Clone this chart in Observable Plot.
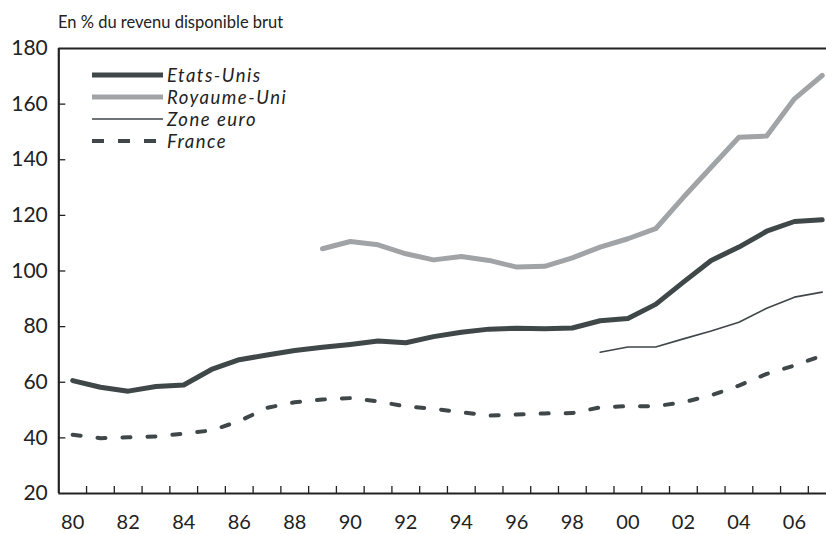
<!DOCTYPE html>
<html>
<head>
<meta charset="utf-8">
<script src="https://cdn.jsdelivr.net/npm/d3@7"></script>
<script src="https://cdn.jsdelivr.net/npm/@observablehq/plot@0.6"></script>
<style>
  html, body { margin: 0; padding: 0; background: #fff; overflow: hidden; }
  #wrap { position: relative; width: 826px; height: 534px; font-family: Lato, "Open Sans", sans-serif; color: #222; }
  #title { position: absolute; left: 58px; top: 11px; font-size: 16.5px; line-height: 22px; white-space: nowrap; }
  #legend { position: absolute; left: 90px; top: 64px; }
  .row { display: flex; align-items: center; height: 22px; }
  .row svg { display: block; margin-right: 4px; }
  .row span { font-style: italic; font-size: 18.5px; letter-spacing: 1.5px; line-height: 22px; white-space: nowrap; }
</style>
</head>
<body>
<div id="wrap">
  <div id="chart"></div>
  <div id="title"></div>
  <div id="legend"></div>
</div>
<script>
const titleText = "En % du revenu disponible brut";
const years = d3.range(1980, 2008);
const etatsUnis = [60.6,58.2,56.8,58.5,59.0,64.6,68.1,69.8,71.4,72.6,73.6,74.8,74.2,76.4,78.0,79.1,79.4,79.2,79.5,82.1,82.9,88.0,96.0,103.8,108.6,114.3,117.8,118.4];
const ruYears = d3.range(1989, 2008);
const royaumeUni = [108.0,110.6,109.4,106.2,104.0,105.2,103.8,101.4,101.7,104.7,108.6,111.6,115.2,126.5,137.3,148.1,148.5,161.9,170.3];
const zeYears = d3.range(1999, 2008);
const zoneEuro = [70.8,72.7,72.7,75.6,78.4,81.6,86.6,90.6,92.4];
const france = [41.1,39.9,40.2,40.5,41.5,42.7,46.0,50.8,52.8,53.8,54.3,53.1,51.3,50.5,49.2,48.0,48.4,48.8,48.9,51.0,51.4,51.4,52.8,55.3,58.8,63.0,66.0,69.6];
const yTicks = [20,40,60,80,100,120,140,160,180];
const xLabelYears = d3.range(1980, 2007, 2);
const xTickPos = d3.range(1980.5, 2007, 1);

const seriesNames = ["Etats-Unis", "Royaume-Uni", "Zone euro", "France"];
const dark = "#3f4749", light = "#a0a4a7";
const styles = {
  "Etats-Unis": {stroke: dark, strokeWidth: 5, dash: null},
  "Royaume-Uni": {stroke: light, strokeWidth: 5, dash: null},
  "Zone euro": {stroke: dark, strokeWidth: 1.6, dash: null},
  "France": {stroke: dark, strokeWidth: 4, dash: "8,17"}
};

const tbl = (ys, vs) => ys.map((y, i) => ({year: y, value: vs[i]}));
const dataUS = tbl(years, etatsUnis);
const dataUK = tbl(ruYears, royaumeUni);
const dataZE = tbl(zeYears, zoneEuro);
const dataFR = tbl(years, france);

const W = 826, H = 534, mL = 58.3, mR = 0, mT = 48, mB = 41;
const xDomain = [1979.5, 1979.5 + (W - mL - mR) / 27.76];
const yDomain = [20, 180];
const tickLenY = 7 * (yDomain[1] - yDomain[0]) / (H - mT - mB);
const tickLenX = 7 * (xDomain[1] - xDomain[0]) / (W - mL - mR);

const axisColor = "#222";
const fmtYear = d => String(d % 100).padStart(2, "0");

const plot = Plot.plot({
  width: W, height: H,
  marginLeft: mL, marginRight: mR, marginTop: mT, marginBottom: mB,
  style: {fontFamily: "Lato, 'Open Sans', sans-serif", background: "#fff", color: axisColor, overflow: "visible"},
  x: {domain: xDomain},
  y: {domain: yDomain},
  marks: [
    Plot.axisY({ticks: yTicks, tickSize: 0, tickPadding: 11, fontSize: 21, fill: axisColor, label: null}),
    Plot.axisX({ticks: xLabelYears, tickSize: 0, tickPadding: 21, fontSize: 20, fill: axisColor, tickFormat: fmtYear, label: null}),
    Plot.ruleX(xTickPos, {x: d => d, y1: yDomain[0], y2: yDomain[0] + tickLenY, stroke: axisColor, strokeWidth: 1.3}),
    Plot.ruleY(yTicks.filter(v => v > 20 && v < 180), {y: d => d, x1: xDomain[0], x2: xDomain[0] + tickLenX, stroke: axisColor, strokeWidth: 1.3}),
    Plot.ruleY([yDomain[0], yDomain[1]], {y: d => d, stroke: axisColor, strokeWidth: 2.2}),
    Plot.ruleX([xDomain[0]], {x: d => d, stroke: axisColor, strokeWidth: 2.2}),
    Plot.line(dataZE, {x: "year", y: "value", stroke: styles["Zone euro"].stroke, strokeWidth: styles["Zone euro"].strokeWidth}),
    Plot.line(dataFR, {x: "year", y: "value", stroke: styles["France"].stroke, strokeWidth: styles["France"].strokeWidth, strokeDasharray: styles["France"].dash}),
    Plot.line(dataUS, {x: "year", y: "value", stroke: styles["Etats-Unis"].stroke, strokeWidth: styles["Etats-Unis"].strokeWidth}),
    Plot.line(dataUK, {x: "year", y: "value", stroke: styles["Royaume-Uni"].stroke, strokeWidth: styles["Royaume-Uni"].strokeWidth})
  ]
});
document.getElementById("chart").appendChild(plot);
document.getElementById("title").textContent = titleText;

const legend = document.getElementById("legend");
for (const name of seriesNames) {
  const s = styles[name];
  const row = document.createElement("div");
  row.className = "row";
  const svg = d3.create("svg").attr("width", 73).attr("height", 22);
  svg.append("line").attr("x1", 2).attr("x2", 73).attr("y1", 11).attr("y2", 11)
    .attr("stroke", s.stroke).attr("stroke-width", s.strokeWidth)
    .attr("stroke-dasharray", s.dash ? "12,14" : null);
  row.appendChild(svg.node());
  const span = document.createElement("span");
  span.textContent = name;
  row.appendChild(span);
  legend.appendChild(row);
}
</script>
</body>
</html>
